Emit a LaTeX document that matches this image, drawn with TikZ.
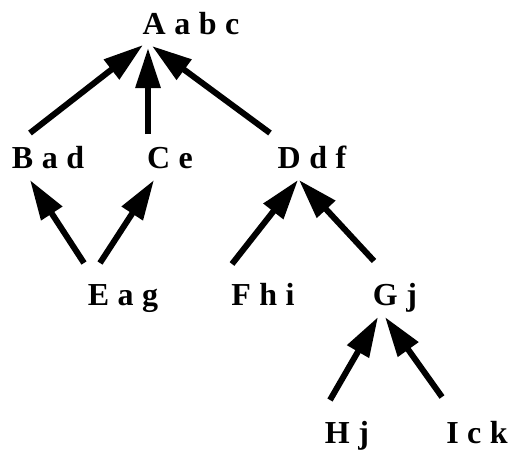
\documentclass[tikz,border=0pt]{standalone}
\usepackage{fontspec}
\newfontfamily\lblfont{Liberation Serif}
\usetikzlibrary{arrows.meta}
\tikzset{
  lbl/.style={anchor=base, inner sep=0pt, font={\lblfont\bfseries\fontsize{32}{36}\selectfont\spaceskip=8.5pt\relax}},
  arr/.style={line width=6pt, -{Triangle[length=40pt,width=24pt]}}
}
\begin{document}
\begin{tikzpicture}[x=1pt,y=-1pt]
\useasboundingbox (0,0) rectangle (513,453);
\node[lbl] (A) at (191,34) {A a b c};
\node[lbl] (B) at (48,168) {B a d};
\node[lbl] (C) at (170,168) {C e};
\node[lbl] (D) at (312,168) {D d f};
\node[lbl] (E) at (123,305) {E a g};
\node[lbl] (F) at (263,305) {F h i};
\node[lbl] (G) at (395,305) {G j};
\node[lbl] (H) at (347,443) {H j};
\node[lbl] (I) at (477,443) {I c k};
\draw[arr] ([shift={(-18,-35)}]B.base) -- ([shift={(-48,11)}]A.base);
\draw[arr] ([shift={(-22,-34)}]C.base) -- ([shift={(-43,14)}]A.base);
\draw[arr] ([shift={(-42,-35)}]D.base) -- ([shift={(-39,12)}]A.base);
\draw[arr] ([shift={(-39,-42)}]E.base) -- ([shift={(-18,12)}]B.base);
\draw[arr] ([shift={(-23,-42)}]E.base) -- ([shift={(-16,12)}]C.base);
\draw[arr] ([shift={(-31,-41)}]F.base) -- ([shift={(-14,12)}]D.base);
\draw[arr] ([shift={(-21,-44)}]G.base) -- ([shift={(-13,12)}]D.base);
\draw[arr] ([shift={(-17,-43)}]H.base) -- ([shift={(-17,12)}]G.base);
\draw[arr] ([shift={(-35,-46)}]I.base) -- ([shift={(-10,12)}]G.base);
\end{tikzpicture}
\end{document}
